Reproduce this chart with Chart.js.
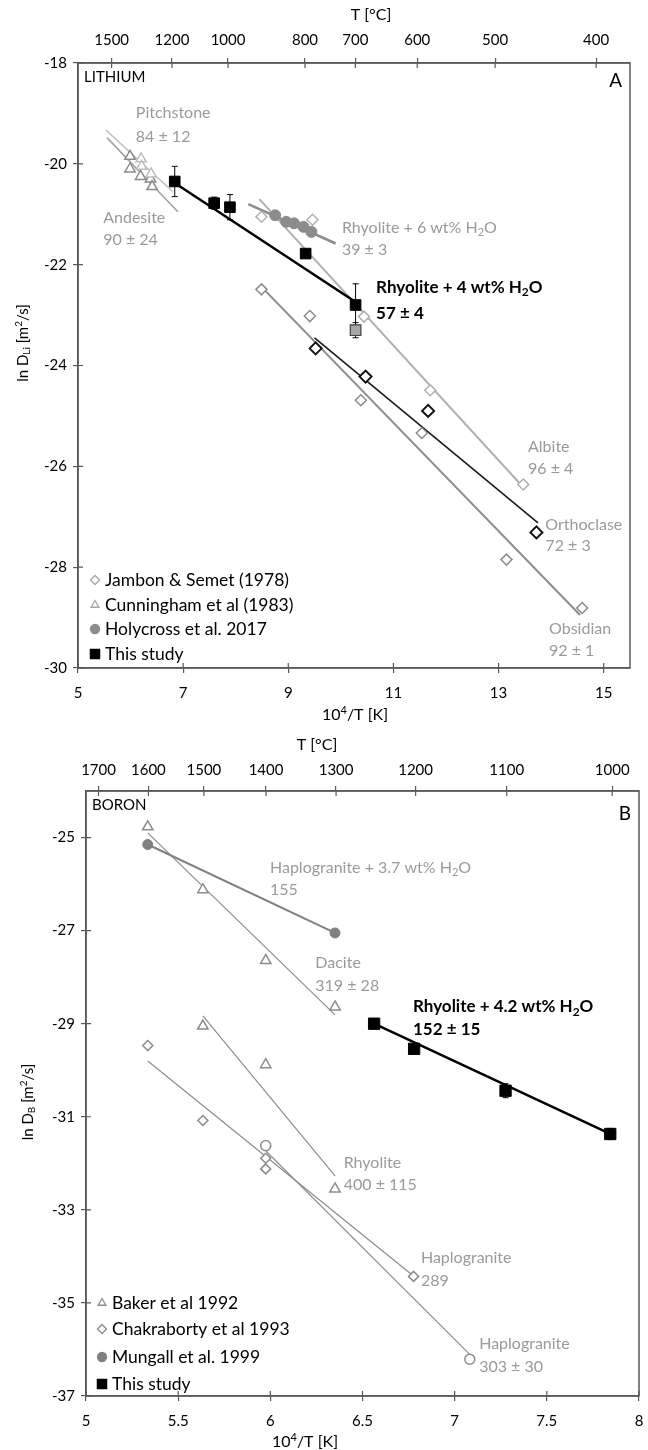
<!DOCTYPE html>
<html>
<head>
<meta charset="utf-8">
<script src="https://cdn.jsdelivr.net/npm/chart.js@4.4.1/dist/chart.umd.min.js"></script>
<style>
  html, body { margin: 0; padding: 0; background: #fff; }
  canvas { display: block; }
</style>
</head>
<body>
<canvas id="chartLi" width="648" height="725"></canvas>
<canvas id="chartB" width="648" height="725"></canvas>
<script>
const FONT = 'Lato, "Open Sans", sans-serif';
const AXIS = '#595959';
const GRAY_TXT = '#9a9a9a';

// ---------- panel A : lithium ----------
const xTicksLi = [5, 7, 9, 11, 13, 15];
const yTicksLi = [-30, -28, -26, -24, -22, -20, -18];
const tempsLi = [1500, 1200, 1000, 800, 700, 600, 500, 400];

const pitchX = [6.2, 6.21, 6.39];
const pitchY = [-19.9, -20.05, -20.2];
const andesX = [5.99, 5.99, 6.19, 6.38, 6.41];
const andesY = [-19.85, -20.1, -20.25, -20.3, -20.45];
const pitchFitX = [5.53, 6.8];
const pitchFitY = [-19.33, -20.55];
const andesFitX = [5.55, 6.9];
const andesFitY = [-19.48, -20.95];

const holyX = [8.75, 8.96, 9.11, 9.29, 9.44];
const holyY = [-21.02, -21.15, -21.18, -21.25, -21.35];
const holyFitX = [8.24, 9.9];
const holyFitY = [-20.8, -21.58];

const albiteX = [8.49, 9.46, 10.44, 11.70, 13.47];
const albiteY = [-21.05, -21.11, -23.03, -24.49, -26.36];
const albiteFitX = [8.45, 13.5];
const albiteFitY = [-20.7, -26.45];

const obsX = [8.49, 9.41, 10.38, 11.54, 13.15, 14.59];
const obsY = [-22.49, -23.02, -24.69, -25.34, -27.85, -28.81];
const obsFitX = [8.5, 14.55];
const obsFitY = [-22.45, -28.95];

const orthoX = [9.52, 10.47, 11.66, 13.72];
const orthoY = [-23.66, -24.22, -24.90, -27.31];
const orthoFitX = [9.5, 13.75];
const orthoFitY = [-23.45, -27.12];

const studyLiX = [6.84, 7.59, 7.89, 9.33, 10.28];
const studyLiY = [-20.35, -20.78, -20.86, -21.78, -22.80];
const studyLiErr = [0.3, 0.12, 0.25, 0.06, 0.42];
const studyLiGrayX = [10.28];
const studyLiGrayY = [-23.30];
const studyLiGrayErr = [0.15];
const studyLiFitX = [6.84, 10.28];
const studyLiFitY = [-20.38, -22.74];

// ---------- panel B : boron ----------
const xTicksB = [5, 5.5, 6, 6.5, 7, 7.5, 8];
const yTicksB = [-37, -35, -33, -31, -29, -27, -25];
const tempsB = [1700, 1600, 1500, 1400, 1300, 1200, 1100, 1000];

const daciteX = [5.335, 5.634, 5.975, 6.351];
const daciteY = [-24.77, -26.12, -27.64, -28.64];
const daciteFitX = [5.335, 6.351];
const daciteFitY = [-24.9, -28.81];

const rhyBX = [5.634, 5.975, 6.351];
const rhyBY = [-29.05, -29.88, -32.55];
const rhyBFitX = [5.634, 6.351];
const rhyBFitY = [-28.83, -32.27];

const mungX = [5.335, 6.351];
const mungY = [-25.15, -27.05];

const chakX = [5.335, 5.634, 5.975, 5.975, 6.777];
const chakY = [-29.47, -31.08, -31.89, -32.12, -34.43];
const chakFitX = [5.335, 6.77];
const chakFitY = [-29.8, -34.4];

const hapX = [5.975, 7.082];
const hapY = [-31.62, -36.21];
const hapFitX = [5.975, 7.08];
const hapFitY = [-31.73, -36.1];

const studyBX = [6.563, 6.78, 7.276, 7.844];
const studyBY = [-29.0, -29.54, -30.44, -31.37];
const studyBErr = [0.06, 0.08, 0.15, 0.12];
const studyBFitX = [6.563, 7.844];
const studyBFitY = [-29.0, -31.37];

// ---------- helpers ----------
const xy = (xs, ys) => xs.map((x, i) => ({ x: x, y: ys[i] }));

function marks(xs, ys, style, stroke, fill, r, bw, extra) {
  return Object.assign({
    data: xy(xs, ys), showLine: false, order: 1,
    pointStyle: style, pointRadius: r, pointHoverRadius: r,
    pointBorderColor: stroke, pointBackgroundColor: fill,
    pointBorderWidth: bw, pointHoverBorderWidth: bw
  }, extra || {});
}

function fit(xs, ys, color, w) {
  return {
    data: xy(xs, ys), showLine: true, order: 2,
    borderColor: color, borderWidth: w, pointRadius: 0, pointHoverRadius: 0
  };
}

function richParts(str) {
  const parts = [];
  const re = /([_^])\{([^}]*)\}/g;
  let last = 0, m;
  while ((m = re.exec(str))) {
    if (m.index > last) parts.push({ t: str.slice(last, m.index), k: '' });
    parts.push({ t: m[2], k: m[1] });
    last = re.lastIndex;
  }
  if (last < str.length) parts.push({ t: str.slice(last), k: '' });
  return parts;
}

function drawRich(ctx, str, x, y, size, weight, color, align) {
  const parts = richParts(str);
  const fontFor = k => weight + ' ' + (k ? Math.round(size * 0.68) : size) + 'px ' + FONT;
  let total = 0;
  parts.forEach(p => { ctx.font = fontFor(p.k); p.w = ctx.measureText(p.t).width; total += p.w; });
  let cx = align === 'center' ? x - total / 2 : align === 'right' ? x - total : x;
  ctx.fillStyle = color;
  ctx.textBaseline = 'middle';
  ctx.textAlign = 'left';
  parts.forEach(p => {
    ctx.font = fontFor(p.k);
    const dy = p.k === '_' ? size * 0.28 : p.k === '^' ? -size * 0.3 : 0;
    ctx.fillText(p.t, cx, y + dy);
    cx += p.w;
  });
}

// frame round the plot and tick marks that cross the axes
const framePlugin = {
  id: 'frame',
  afterDraw(chart) {
    const { ctx, chartArea: a, scales } = chart;
    ctx.save();
    ctx.strokeStyle = AXIS;
    ctx.lineWidth = 1.5;
    ctx.strokeRect(a.left, a.top, a.right - a.left, a.bottom - a.top);
    ctx.lineWidth = 1.2;
    ctx.beginPath();
    scales.x.ticks.forEach(t => {
      const p = scales.x.getPixelForValue(t.value);
      ctx.moveTo(p, a.bottom); ctx.lineTo(p, a.bottom - 5);
    });
    scales.x2.ticks.forEach(t => {
      const p = scales.x2.getPixelForValue(t.value);
      ctx.moveTo(p, a.top); ctx.lineTo(p, a.top + 5);
    });
    scales.y.ticks.forEach(t => {
      const p = scales.y.getPixelForValue(t.value);
      ctx.moveTo(a.left, p); ctx.lineTo(a.left + 5, p);
    });
    ctx.stroke();
    ctx.restore();
  }
};

const errorBarPlugin = {
  id: 'errorBars',
  beforeDatasetsDraw(chart) {
    const { ctx, scales } = chart;
    ctx.save();
    ctx.strokeStyle = '#000';
    ctx.lineWidth = 1;
    chart.data.datasets.forEach(ds => {
      if (!ds.errors) return;
      ds.data.forEach((pt, i) => {
        const e = ds.errors[i];
        const px = scales.x.getPixelForValue(pt.x);
        const top = scales.y.getPixelForValue(pt.y + e);
        const bot = scales.y.getPixelForValue(pt.y - e);
        ctx.beginPath();
        ctx.moveTo(px, top); ctx.lineTo(px, bot);
        ctx.moveTo(px - 3, top); ctx.lineTo(px + 3, top);
        ctx.moveTo(px - 3, bot); ctx.lineTo(px + 3, bot);
        ctx.stroke();
      });
    });
    ctx.restore();
  }
};

function textPlugin(p) {
  return {
    id: 'texts',
    afterDraw(chart) {
      const { ctx, chartArea: a, scales } = chart;
      ctx.save();
      p.notes.forEach(n => {
        drawRich(ctx, n.text, scales.x.getPixelForValue(n.x), scales.y.getPixelForValue(n.y),
          n.bold ? 17 : 16, n.bold ? 'bold' : 'normal', n.color, 'left');
      });
      drawRich(ctx, p.name, a.left + 6, a.top + p.nameDy, 15, 'normal', '#000', 'left');
      drawRich(ctx, p.letter, a.right - 8, a.top + p.letterDy, 19, 'normal', '#000', 'right');
      drawRich(ctx, 'T [°C]', p.topTitle[0], p.topTitle[1], 16, 'normal', '#000', 'center');
      drawRich(ctx, '10^{4}/T [K]', p.bottomTitle[0], p.bottomTitle[1], 16, 'normal', '#000', 'center');
      ctx.save();
      ctx.translate(p.yTitle[0], p.yTitle[1]);
      ctx.rotate(-Math.PI / 2);
      drawRich(ctx, p.yTitleText, 0, 0, 15, 'normal', '#000', 'center');
      ctx.restore();
      p.legend.forEach((l, i) => {
        const y = a.bottom - p.legendDy[i];
        ctx.fillStyle = l.fill;
        ctx.strokeStyle = l.stroke;
        ctx.lineWidth = 1.3;
        Chart.helpers.drawPoint(ctx, { pointStyle: l.style, radius: l.r, rotation: 0, borderWidth: 1.3 },
          a.left + p.legendX, y);
        drawRich(ctx, l.text, a.left + p.legendX + 10, y, 17.5, 'normal', '#000', 'left');
      });
      ctx.restore();
    }
  };
}

function buildPanel(id, p) {
  const canvas = document.getElementById(id);
  const W = canvas.width, H = canvas.height, box = p.box;
  const tickFont = { family: FONT, size: 15 };
  const axisGrid = { display: true, drawOnChartArea: false, drawTicks: true, tickLength: 5, color: AXIS, lineWidth: 1.2 };
  const axisBorder = { display: true, color: AXIS, width: 1.5 };
  return new Chart(canvas, {
    type: 'scatter',
    data: { datasets: p.datasets },
    options: {
      responsive: false,
      animation: false,
      devicePixelRatio: 1,
      events: [],
      layout: { padding: { left: 0, right: W - box.right, top: 0, bottom: 0 } },
      plugins: { legend: { display: false }, tooltip: { enabled: false } },
      scales: {
        x: {
          type: 'linear', position: 'bottom', min: p.xMin, max: p.xMax,
          grid: axisGrid, border: axisBorder,
          ticks: { color: '#000', font: tickFont, padding: 11, maxRotation: 0, autoSkip: false,
                   callback: v => String(v) },
          afterBuildTicks: s => { s.ticks = p.xTicks.map(v => ({ value: v })); },
          afterFit: s => { s.height = H - box.bottom; s.paddingLeft = 0; s.paddingRight = 0; }
        },
        x2: {
          type: 'linear', position: 'top', min: p.xMin, max: p.xMax,
          grid: axisGrid, border: axisBorder,
          ticks: { color: '#000', font: tickFont, padding: p.topPad, maxRotation: 0, autoSkip: false,
                   callback: (v, i) => String(p.temps[i]) },
          afterBuildTicks: s => { s.ticks = p.temps.map(t => ({ value: 1e4 / (t + 273.15) })); },
          afterFit: s => { s.height = box.top; s.paddingLeft = 0; s.paddingRight = 0; }
        },
        y: {
          type: 'linear', position: 'left', min: p.yMin, max: p.yMax,
          grid: axisGrid, border: axisBorder,
          ticks: { color: '#000', font: tickFont, padding: 6, autoSkip: false, callback: v => String(v) },
          afterBuildTicks: s => { s.ticks = p.yTicks.map(v => ({ value: v })); },
          afterFit: s => { s.width = box.left; s.paddingTop = 0; s.paddingBottom = 0; }
        }
      }
    },
    plugins: [framePlugin, errorBarPlugin, textPlugin(p)]
  });
}

// ---------- panel A ----------
buildPanel('chartLi', {
  box: { left: 78, right: 630, top: 63, bottom: 668 },
  xMin: 5, xMax: 15.5, yMin: -30, yMax: -18,
  xTicks: xTicksLi, yTicks: yTicksLi, temps: tempsLi, topPad: 9,
  name: 'LITHIUM', nameDy: 14, letter: 'A', letterDy: 18,
  topTitle: [371, 15], bottomTitle: [355, 715], yTitle: [23, 343],
  yTitleText: 'ln D_{Li} [m^{2}/s]',
  legendX: 17, legendDy: [88, 63, 39, 14],
  legend: [
    { text: 'Jambon & Semet (1978)', style: 'rectRot', stroke: '#a6a6a6', fill: '#fff', r: 4.5 },
    { text: 'Cunningham et al (1983)', style: 'triangle', stroke: '#a6a6a6', fill: '#fff', r: 4.5 },
    { text: 'Holycross et al. 2017', style: 'circle', stroke: '#8c8c8c', fill: '#8c8c8c', r: 4.5 },
    { text: 'This study', style: 'rect', stroke: '#000', fill: '#000', r: 6.5 }
  ],
  notes: [
    { text: 'Pitchstone', x: 6.1, y: -18.99, color: GRAY_TXT },
    { text: '84 ± 12', x: 6.1, y: -19.47, color: GRAY_TXT },
    { text: 'Andesite', x: 5.48, y: -21.07, color: GRAY_TXT },
    { text: '90 ± 24', x: 5.48, y: -21.51, color: GRAY_TXT },
    { text: 'Rhyolite + 6 wt% H_{2}O', x: 10.02, y: -21.27, color: GRAY_TXT },
    { text: '39 ± 3', x: 10.02, y: -21.71, color: GRAY_TXT },
    { text: 'Rhyolite + 4 wt% H_{2}O', x: 10.67, y: -22.46, color: '#000', bold: true },
    { text: '57 ± 4', x: 10.67, y: -22.96, color: '#000', bold: true },
    { text: 'Albite', x: 13.56, y: -25.62, color: GRAY_TXT },
    { text: '96 ± 4', x: 13.56, y: -26.05, color: GRAY_TXT },
    { text: 'Orthoclase', x: 13.89, y: -27.16, color: GRAY_TXT },
    { text: '72 ± 3', x: 13.89, y: -27.58, color: GRAY_TXT },
    { text: 'Obsidian', x: 13.96, y: -29.22, color: GRAY_TXT },
    { text: '92 ± 1', x: 13.96, y: -29.65, color: GRAY_TXT }
  ],
  datasets: [
    marks(studyLiX, studyLiY, 'rect', '#000', '#000', 7.5, 1, { errors: studyLiErr }),
    marks(studyLiGrayX, studyLiGrayY, 'rect', '#404040', '#a6a6a6', 7.5, 1.2, { errors: studyLiGrayErr }),
    marks(orthoX, orthoY, 'rectRot', '#111', '#fff', 6, 2),
    marks(holyX, holyY, 'circle', '#8c8c8c', '#8c8c8c', 5.5, 1),
    marks(albiteX, albiteY, 'rectRot', '#b0b0b0', '#fff', 5.5, 1.5),
    marks(obsX, obsY, 'rectRot', '#8c8c8c', '#fff', 5.5, 1.5),
    marks(pitchX, pitchY, 'triangle', '#bdbdbd', '#fff', 6, 1.5),
    marks(andesX, andesY, 'triangle', '#8c8c8c', '#fff', 6, 1.5),
    fit(studyLiFitX, studyLiFitY, '#000', 2.5),
    fit(orthoFitX, orthoFitY, '#1a1a1a', 1.6),
    fit(holyFitX, holyFitY, '#8c8c8c', 2.5),
    fit(albiteFitX, albiteFitY, '#b0b0b0', 2),
    fit(obsFitX, obsFitY, '#8c8c8c', 2),
    fit(pitchFitX, pitchFitY, '#bdbdbd', 1.5),
    fit(andesFitX, andesFitY, '#a0a0a0', 1.5)
  ]
});

// ---------- panel B ----------
buildPanel('chartB', {
  box: { left: 86, right: 644, top: 66, bottom: 671 },
  xMin: 5, xMax: 8, yMin: -37, yMax: -24,
  xTicks: xTicksB, yTicks: yTicksB, temps: tempsB, topPad: 7,
  name: 'BORON', nameDy: 14, letter: 'B', letterDy: 23,
  topTitle: [317, 20], bottomTitle: [305, 717], yTitle: [28, 377],
  yTitleText: 'ln D_{B} [m^{2}/s]',
  legendX: 16, legendDy: [93, 67, 39, 12],
  legend: [
    { text: 'Baker et al 1992', style: 'triangle', stroke: '#8c8c8c', fill: '#fff', r: 4.5 },
    { text: 'Chakraborty et al 1993', style: 'rectRot', stroke: '#8c8c8c', fill: '#fff', r: 4.5 },
    { text: 'Mungall et al. 1999', style: 'circle', stroke: '#808080', fill: '#808080', r: 4.5 },
    { text: 'This study', style: 'rect', stroke: '#000', fill: '#000', r: 6.5 }
  ],
  notes: [
    { text: 'Haplogranite + 3.7 wt% H_{2}O', x: 5.998, y: -25.65, color: GRAY_TXT },
    { text: '155', x: 5.998, y: -26.12, color: GRAY_TXT },
    { text: 'Dacite', x: 6.244, y: -27.69, color: GRAY_TXT },
    { text: '319 ± 28', x: 6.244, y: -28.18, color: GRAY_TXT },
    { text: 'Rhyolite + 4.2 wt% H_{2}O', x: 6.774, y: -28.64, color: '#000', bold: true },
    { text: '152 ± 15', x: 6.774, y: -29.13, color: '#000', bold: true },
    { text: 'Rhyolite', x: 6.398, y: -32.0, color: GRAY_TXT },
    { text: '400 ± 115', x: 6.398, y: -32.46, color: GRAY_TXT },
    { text: 'Haplogranite', x: 6.817, y: -34.04, color: GRAY_TXT },
    { text: '289', x: 6.817, y: -34.52, color: GRAY_TXT },
    { text: 'Haplogranite', x: 7.133, y: -35.89, color: GRAY_TXT },
    { text: '303 ± 30', x: 7.133, y: -36.37, color: GRAY_TXT }
  ],
  datasets: [
    marks(studyBX, studyBY, 'rect', '#000', '#000', 8, 1, { errors: studyBErr }),
    marks(mungX, mungY, 'circle', '#808080', '#808080', 5, 1),
    marks(daciteX, daciteY, 'triangle', '#8c8c8c', '#fff', 6, 1.5),
    marks(rhyBX, rhyBY, 'triangle', '#8c8c8c', '#fff', 6, 1.5),
    marks(chakX, chakY, 'rectRot', '#8c8c8c', '#fff', 5, 1.5),
    marks(hapX, hapY, 'circle', '#8c8c8c', '#fff', 5, 1.5),
    fit(studyBFitX, studyBFitY, '#000', 2.5),
    fit(mungX, mungY, '#808080', 2),
    fit(daciteFitX, daciteFitY, '#8c8c8c', 1.2),
    fit(rhyBFitX, rhyBFitY, '#8c8c8c', 1.2),
    fit(chakFitX, chakFitY, '#8c8c8c', 1.2),
    fit(hapFitX, hapFitY, '#8c8c8c', 1.2)
  ]
});
</script>
</body>
</html>
